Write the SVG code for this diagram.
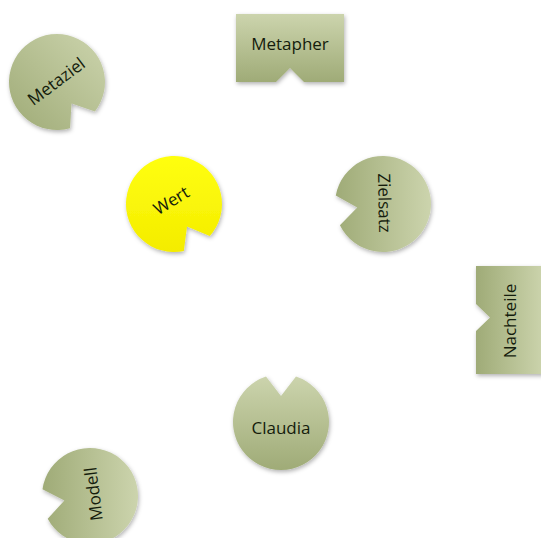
<svg xmlns="http://www.w3.org/2000/svg" width="541" height="538" viewBox="0 0 541 538">
<style>
.lbl{font-family:"Open Sans","Liberation Sans",sans-serif;font-size:17px;fill:#141c0c;text-anchor:middle;dominant-baseline:central}
.shp{filter:url(#sh)}
</style>
<defs>
<filter id="sh" x="-20%" y="-20%" width="140%" height="140%">
<feDropShadow dx="1" dy="2" stdDeviation="2" flood-color="#000" flood-opacity="0.3"/>
</filter>
<linearGradient id="gTB" x1="0" y1="0" x2="0" y2="1">
<stop offset="0" stop-color="#ccd4ad"/><stop offset="1" stop-color="#9fab77"/>
</linearGradient>
<linearGradient id="gRL" x1="1" y1="0" x2="0" y2="0">
<stop offset="0" stop-color="#ccd4ad"/><stop offset="1" stop-color="#9fab77"/>
</linearGradient>
<linearGradient id="gLR" x1="0" y1="0" x2="1" y2="0">
<stop offset="0" stop-color="#9fab77"/><stop offset="1" stop-color="#ccd4ad"/>
</linearGradient>
<linearGradient id="gTRBL" x1="1" y1="0" x2="0" y2="1">
<stop offset="0" stop-color="#ccd4ad"/><stop offset="1" stop-color="#9fab77"/>
</linearGradient>
<linearGradient id="gY" x1="0" y1="0" x2="0" y2="1">
<stop offset="0" stop-color="#ffff10"/><stop offset="1" stop-color="#f4ec00"/>
</linearGradient>
</defs>
<g id="connectors"></g>
<g id="metapher">
<path class="shp" fill="url(#gTB)" d="M236,14 H344 V82 H304 L290,68 L276,82 H236 Z"/>
<text class="lbl" x="290" y="43">Metapher</text>
</g>
<g id="metaziel">
<path class="shp" fill="url(#gTRBL)" d="M70.07,128.19 A48,48 0 1 1 94.93,111.42 L71.54,103.55 Z"/>
<text class="lbl" x="56" y="81" transform="rotate(-37 56 81)">Metaziel</text>
</g>
<g id="wert">
<path class="shp" fill="url(#gY)" d="M183.82,250.99 A48,48 0 1 1 209.78,235.99 L187,226.5 Z"/>
<text class="lbl" x="171" y="200" transform="rotate(-31 171 200)">Wert</text>
</g>
<g id="zielsatz">
<path class="shp" fill="url(#gRL)" d="M335.76,195.5 A48,48 0 1 1 339.93,225.19 L357.25,207.62 Z"/>
<text class="lbl" x="385" y="203" transform="rotate(89 385 203)">Zielsatz</text>
</g>
<g id="nachteile">
<path class="shp" fill="url(#gLR)" d="M476,266 H544 V374 H476 V331 L490,317.5 L476,304 Z"/>
<text class="lbl" x="509" y="321" transform="rotate(-90 509 321)">Nachteile</text>
</g>
<g id="claudia">
<path class="shp" fill="url(#gTB)" d="M295.99,376.4 A48,48 0 1 1 266.01,376.4 L281,396 Z"/>
<text class="lbl" x="281" y="427">Claudia</text>
</g>
<g id="modell">
<path class="shp" fill="url(#gRL)" d="M42.49,489.15 A48,48 0 1 1 47.7,518.68 L64.4,500.5 Z"/>
<text class="lbl" x="93" y="494" transform="rotate(-97 93 494)">Modell</text>
</g>
</svg>
